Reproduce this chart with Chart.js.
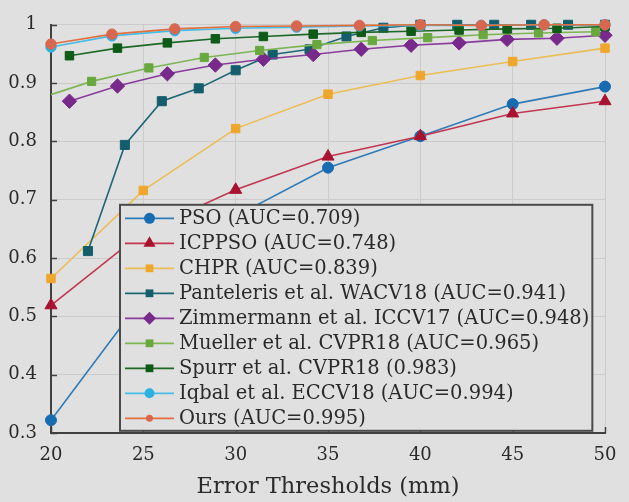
<!DOCTYPE html>
<html>
<head>
<meta charset="utf-8">
<script src="https://cdn.jsdelivr.net/npm/chart.js@4.4.0/dist/chart.umd.min.js"></script>
<style>
  html, body { margin: 0; padding: 0; background: #e0e0e0; }
  #wrap { width: 629px; height: 502px; }
  canvas { display: block; }
</style>
</head>
<body>
<div id="wrap"><canvas id="pck" width="629" height="502"></canvas></div>
<script>
// 3D PCK curves: fraction of correct keypoints vs. error threshold (mm)
const xTitle = 'Error Thresholds (mm)';

const psoX = [20, 25, 30, 35, 40, 45, 50];
const psoY = [0.322, 0.533, 0.672, 0.755, 0.809, 0.864, 0.894];

const icppsoX = [20, 25, 30, 35, 40, 45, 50];
const icppsoY = [0.519, 0.645, 0.717, 0.774, 0.809, 0.848, 0.869];

const chprX = [20, 25, 30, 35, 40, 45, 50];
const chprY = [0.565, 0.716, 0.822, 0.881, 0.913, 0.937, 0.960];

const panterelisX = [22, 24, 26, 28, 30, 32, 34, 36, 38, 40, 42, 44, 46, 48, 50];
const panterelisY = [0.612, 0.794, 0.869, 0.891, 0.922, 0.949, 0.958, 0.980, 0.995, 1.0, 1.0, 1.0, 1.0, 1.0, 1.0];

const zimmermannX = [21, 23.6, 26.3, 28.9, 31.5, 34.2, 36.8, 39.5, 42.1, 44.7, 47.4, 50];
const zimmermannY = [0.869, 0.895, 0.916, 0.931, 0.941, 0.949, 0.958, 0.965, 0.969, 0.975, 0.977, 0.982];

const muellerX = [19.2, 22.2, 25.3, 28.3, 31.3, 34.4, 37.4, 40.4, 43.4, 46.4, 49.5];
const muellerY = [0.872, 0.903, 0.926, 0.944, 0.956, 0.966, 0.973, 0.978, 0.983, 0.986, 0.988];

const spurrX = [21, 23.6, 26.3, 28.9, 31.5, 34.2, 36.8, 39.5, 42.1, 44.7, 47.4, 50];
const spurrY = [0.947, 0.960, 0.969, 0.976, 0.980, 0.984, 0.987, 0.989, 0.991, 0.993, 0.994, 0.997];

const iqbalX = [20, 23.3, 26.7, 30, 33.3, 36.7, 40, 43.3, 46.7, 50];
const iqbalY = [0.962, 0.981, 0.990, 0.994, 0.996, 0.998, 0.999, 0.999, 1.0, 1.0];

const oursX = [20, 23.3, 26.7, 30, 33.3, 36.7, 40, 43.3, 46.7, 50];
const oursY = [0.967, 0.984, 0.993, 0.997, 0.998, 0.999, 1.0, 0.999, 1.0, 1.0];

const seriesLabels = [
  'PSO (AUC=0.709)',
  'ICPPSO (AUC=0.748)',
  'CHPR (AUC=0.839)',
  'Panteleris et al. WACV18 (AUC=0.941)',
  'Zimmermann et al. ICCV17 (AUC=0.948)',
  'Mueller et al. CVPR18 (AUC=0.965)',
  'Spurr et al. CVPR18 (0.983)',
  'Iqbal et al. ECCV18 (AUC=0.994)',
  'Ours (AUC=0.995)'
];

const toPoints = (xs, ys) => xs.map((x, i) => ({ x, y: ys[i] }));

const FONT = "'DejaVu Serif', serif";
const TEXT = '#2a2a2a';
const AXIS = '#404040';
const GRID = '#cbcbcb';
const BG = '#e0e0e0';

function series(i, xs, ys, st) {
  return {
    label: seriesLabels[i],
    data: toPoints(xs, ys),
    borderColor: st.line,
    backgroundColor: st.marker,
    pointBackgroundColor: st.marker,
    pointBorderColor: st.marker,
    pointBorderWidth: 1,
    pointStyle: st.shape,
    pointRadius: st.r,
    legendRadius: st.lr,
    borderWidth: 1.6,
    tension: 0,
    order: 20 - i,
    clip: st.clip !== undefined ? st.clip : 12
  };
}

const datasets = [
  series(0, psoX, psoY, { line: '#2f7bb8', marker: '#176bb0', shape: 'circle', r: 5.5, lr: 5.5 }),
  series(1, icppsoX, icppsoY, { line: '#c23651', marker: '#a8122f', shape: 'triangle', r: 7, lr: 7 }),
  series(2, chprX, chprY, { line: '#ebbd55', marker: '#eea72c', shape: 'rect', r: 6, lr: 5.5 }),
  series(3, panterelisX, panterelisY, { line: '#1d6676', marker: '#145d6c', shape: 'rect', r: 6.4, lr: 5.5 }),
  series(4, zimmermannX, zimmermannY, { line: '#8a3c9c', marker: '#772a8b', shape: 'rectRot', r: 7.2, lr: 6.5 }),
  series(5, muellerX, muellerY, { line: '#7cb552', marker: '#68a83f', shape: 'rect', r: 5.8, lr: 5.5 }),
  series(6, spurrX, spurrY, { line: '#1c6a25', marker: '#0e5a17', shape: 'rect', r: 6, lr: 5.5 }),
  series(7, iqbalX, iqbalY, { line: '#45bde6', marker: '#2cb2e2', shape: 'circle', r: 5.2, lr: 5 }),
  series(8, oursX, oursY, { line: '#e2703f', marker: '#d9674f', shape: 'circle', r: 5.2, lr: 3.5 })
];
datasets[5].clip = { left: 0, top: 12, right: 12, bottom: 0 };

function markerPath(ctx, shape, r, x, y) {
  ctx.beginPath();
  if (shape === 'circle') {
    ctx.arc(x, y, r, 0, Math.PI * 2);
  } else if (shape === 'triangle') {
    for (let k = 0; k < 3; k++) {
      const a = k * 2 * Math.PI / 3;
      const px = x + Math.sin(a) * r, py = y - Math.cos(a) * r;
      k === 0 ? ctx.moveTo(px, py) : ctx.lineTo(px, py);
    }
  } else if (shape === 'rect') {
    const s = Math.SQRT1_2 * r;
    ctx.rect(x - s, y - s, 2 * s, 2 * s);
  } else if (shape === 'rectRot') {
    ctx.moveTo(x, y - r); ctx.lineTo(x + r, y); ctx.lineTo(x, y + r); ctx.lineTo(x - r, y);
  }
  ctx.closePath();
}

// ticks drawn inward from the axis lines
const inwardTicks = {
  id: 'inwardTicks',
  beforeDatasetsDraw(chart) {
    const { ctx, chartArea, scales } = chart;
    ctx.save();
    ctx.strokeStyle = AXIS;
    ctx.lineWidth = 1.5;
    ctx.beginPath();
    scales.x.ticks.forEach(t => {
      const px = Math.round(scales.x.getPixelForValue(t.value)) + 0.5;
      ctx.moveTo(px, chartArea.bottom);
      ctx.lineTo(px, chartArea.bottom - 6);
    });
    scales.y.ticks.forEach(t => {
      const py = Math.round(scales.y.getPixelForValue(t.value)) + 0.5;
      ctx.moveTo(chartArea.left, py);
      ctx.lineTo(chartArea.left + 6, py);
    });
    ctx.stroke();
    ctx.restore();
  }
};

// boxed legend inside the plot area
const boxedLegend = {
  id: 'boxedLegend',
  afterDatasetsDraw(chart) {
    const { ctx, chartArea } = chart;
    const ds = chart.data.datasets;
    const left = chartArea.left + 69;
    const top = chartArea.top + 180;
    const rowH = 25;
    const lineLen = 49;
    ctx.save();
    ctx.font = '19.5px ' + FONT;
    let maxW = 0;
    ds.forEach(d => { maxW = Math.max(maxW, ctx.measureText(d.label).width); });
    const width = 5 + lineLen + 5 + maxW + 3;
    const height = rowH * ds.length + 1;
    ctx.fillStyle = BG;
    ctx.fillRect(left, top, width, height);
    ctx.strokeStyle = '#4a4a4a';
    ctx.lineWidth = 2;
    ctx.strokeRect(left, top, width, height);
    ctx.textBaseline = 'middle';
    ds.forEach((d, i) => {
      const cy = top + 13.5 + i * rowH;
      const x0 = left + 5;
      ctx.strokeStyle = d.borderColor;
      ctx.lineWidth = 1.8;
      ctx.beginPath();
      ctx.moveTo(x0, cy);
      ctx.lineTo(x0 + lineLen, cy);
      ctx.stroke();
      ctx.fillStyle = d.pointBackgroundColor;
      markerPath(ctx, d.pointStyle, d.legendRadius, x0 + lineLen / 2, cy);
      ctx.fill();
      ctx.fillStyle = TEXT;
      ctx.fillText(d.label, x0 + lineLen + 5, cy + 1);
    });
    ctx.restore();
  }
};

new Chart(document.getElementById('pck'), {
  type: 'line',
  data: { datasets },
  plugins: [inwardTicks, boxedLegend],
  options: {
    responsive: false,
    animation: false,
    layout: { padding: { top: 13, right: 24, left: 0, bottom: 0 } },
    plugins: { legend: { display: false }, tooltip: { enabled: false } },
    scales: {
      x: {
        type: 'linear',
        min: 20,
        max: 50,
        ticks: { stepSize: 5, color: TEXT, font: { family: FONT, size: 18 }, padding: 12 },
        grid: { color: GRID, lineWidth: 1, drawTicks: false },
        border: { color: AXIS, width: 2 },
        title: { display: true, text: xTitle, color: TEXT, font: { family: FONT, size: 22.5 }, padding: { top: 0, bottom: 1 } },
        afterFit(scale) { scale.height = 69; }
      },
      y: {
        min: 0.3,
        max: 1,
        ticks: {
          stepSize: 0.1, color: TEXT, font: { family: FONT, size: 18 }, padding: 14,
          callback: v => (Math.abs(v - 1) < 1e-9 ? '1' : v.toFixed(1))
        },
        grid: { color: GRID, lineWidth: 1, drawTicks: false },
        border: { color: AXIS, width: 2 },
        afterFit(scale) { scale.width = 51; }
      }
    }
  }
});
</script>
</body>
</html>
